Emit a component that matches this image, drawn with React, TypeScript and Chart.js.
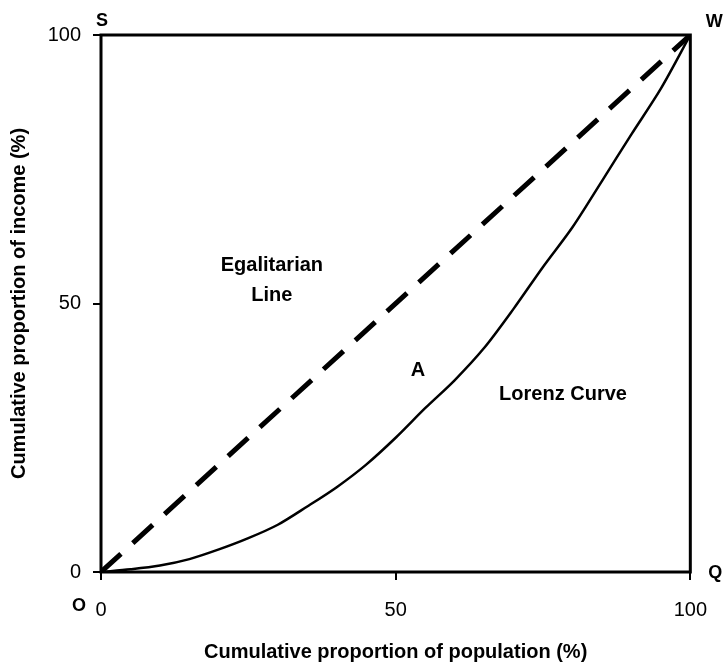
import React, { useEffect, useRef } from "react";
import { Chart, registerables } from "chart.js";

Chart.register(...registerables);

// ---- Data ----
const population = [0, 5, 10, 15, 20, 25, 30, 35, 40, 45, 50, 55, 60, 65, 70, 75, 80, 85, 90, 95, 100];
const lorenzIncome = [0, 0.5, 1.2, 2.4, 4.2, 6.3, 8.8, 12.2, 15.8, 20, 25, 30.5, 35.7, 41.7, 49, 56.8, 64.2, 72.8, 81.5, 90, 100];
const egalitarianX = [0, 100];
const egalitarianY = [0, 100];
const tickValues = [0, 50, 100];
const xTitle = "Cumulative proportion of population (%)";
const yTitle = "Cumulative proportion of income (%)";
const cornerLabels = ["S", "W", "O", "Q"];
const annotationTexts = ["Egalitarian", "Line", "A", "Lorenz Curve"];
const annotationX = [29.0, 29.0, 53.8, 78.4];
const annotationY = [57.0, 51.4, 37.6, 33.0];

const FONT = "'Liberation Sans', Arial, Helvetica, sans-serif";

const framePlugin = {
  id: "frameAndLabels",
  afterDatasetsDraw(chart: any) {
    const { ctx, chartArea } = chart;
    const { left, right, top, bottom } = chartArea;
    ctx.save();
    ctx.strokeStyle = "#000";
    ctx.lineWidth = 3;
    ctx.strokeRect(left, top, right - left, bottom - top);

    ctx.fillStyle = "#000";
    ctx.textAlign = "center";
    ctx.textBaseline = "middle";
    ctx.font = `bold 18px ${FONT}`;
    // corner letters: S (top-left), W (top-right), O (bottom-left), Q (bottom-right)
    ctx.fillText(cornerLabels[0], left + 1, top - 14);
    ctx.fillText(cornerLabels[1], right + 24, top - 13);
    ctx.fillText(cornerLabels[2], left - 22, bottom + 34);
    ctx.fillText(cornerLabels[3], right + 25, bottom + 1);

    const xs = chart.scales.x;
    const ys = chart.scales.y;
    ctx.font = `bold 20px ${FONT}`;
    for (let i = 0; i < annotationTexts.length; i++) {
      ctx.fillText(
        annotationTexts[i],
        xs.getPixelForValue(annotationX[i]),
        ys.getPixelForValue(annotationY[i])
      );
    }
    ctx.restore();
  },
};

export default function App() {
  const canvasRef = useRef<HTMLCanvasElement | null>(null);

  useEffect(() => {
    if (!canvasRef.current) return;
    const chart = new Chart(canvasRef.current, {
      type: "scatter",
      data: {
        datasets: [
          {
            label: "Egalitarian Line",
            data: egalitarianX.map((x, i) => ({ x, y: egalitarianY[i] })),
            showLine: true,
            borderColor: "#000",
            borderWidth: 5,
            borderDash: [27, 16],
            pointRadius: 0,
            fill: false,
          },
          {
            label: "Lorenz Curve",
            data: population.map((x, i) => ({ x, y: lorenzIncome[i] })),
            showLine: true,
            borderColor: "#000",
            borderWidth: 2.5,
            pointRadius: 0,
            tension: 0.3,
            fill: false,
          },
        ],
      },
      options: {
        responsive: true,
        maintainAspectRatio: false,
        animation: false,
        layout: { padding: { top: 35, right: 32, left: 0, bottom: 0 } },
        plugins: {
          legend: { display: false },
          tooltip: { enabled: false },
        },
        scales: {
          x: {
            type: "linear",
            min: 0,
            max: 100,
            afterBuildTicks: (scale: any) => {
              scale.ticks = tickValues.map((v) => ({ value: v }));
            },
            afterFit: (scale: any) => {
              scale.height = 95;
            },
            ticks: {
              color: "#000",
              font: { family: FONT, size: 20 },
              padding: 18,
              maxRotation: 0,
            },
            grid: {
              display: true,
              drawOnChartArea: false,
              drawTicks: true,
              tickLength: 8,
              color: "#000",
              lineWidth: 2,
            },
            border: { display: false },
            title: {
              display: true,
              text: xTitle,
              color: "#000",
              font: { family: FONT, size: 20, weight: "bold" },
              padding: 3,
            },
          },
          y: {
            type: "linear",
            min: 0,
            max: 100,
            afterBuildTicks: (scale: any) => {
              scale.ticks = tickValues.map((v) => ({ value: v }));
            },
            afterFit: (scale: any) => {
              scale.width = 101;
            },
            ticks: {
              color: "#000",
              font: { family: FONT, size: 20 },
              padding: 12,
            },
            grid: {
              display: true,
              drawOnChartArea: false,
              drawTicks: true,
              tickLength: 8,
              color: "#000",
              lineWidth: 2,
            },
            border: { display: false },
            title: {
              display: true,
              text: yTitle,
              color: "#000",
              font: { family: FONT, size: 20, weight: "bold" },
              padding: 7,
            },
          },
        },
      },
      plugins: [framePlugin],
    });
    return () => chart.destroy();
  }, []);

  return (
    <div style={{ position: "absolute", left: 0, top: 0, width: 725, height: 667, background: "#fff" }}>
      <canvas ref={canvasRef} />
    </div>
  );
}
